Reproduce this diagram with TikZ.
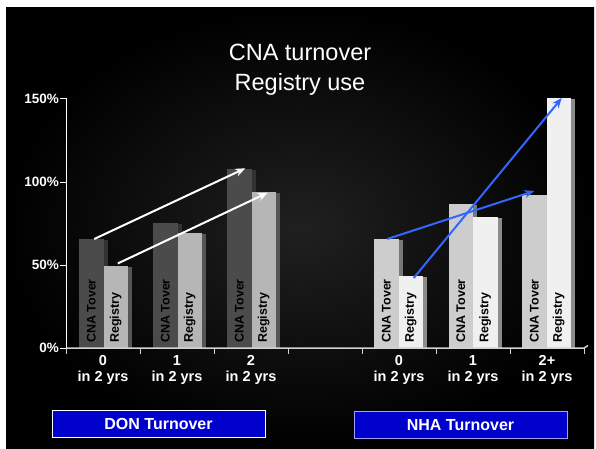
\documentclass[tikz,border=0pt]{standalone}
\usepackage{fontspec}
\setmainfont{Liberation Sans}
\usetikzlibrary{arrows.meta}
\definecolor{donDark}{RGB}{75,75,75}
\definecolor{donDarkSide}{RGB}{50,50,50}
\definecolor{donLight}{RGB}{182,182,182}
\definecolor{donLightSide}{RGB}{85,85,85}
\definecolor{nhaDark}{RGB}{205,205,205}
\definecolor{nhaDarkSide}{RGB}{120,120,120}
\definecolor{nhaLight}{RGB}{240,240,240}
\definecolor{nhaLightSide}{RGB}{140,140,140}
\definecolor{boxBlue}{RGB}{0,0,204}
\definecolor{boxRim}{RGB}{160,160,255}
\definecolor{arrowBlue}{RGB}{51,102,255}

\begin{document}
\begin{tikzpicture}[
        x=1pt, y=-1pt,
        every node/.style={text=white},
        title/.style={align=center, font=\fontsize{23.5}{30}\selectfont},
        ylabel/.style={anchor=east, inner sep=0pt, font=\bfseries\fontsize{13.5}{13.5}\selectfont},
        catlabel/.style={align=center, inner sep=0pt, font=\bfseries\fontsize{14.5}{16}\selectfont},
        barlabel/.style={rotate=90, anchor=west, inner sep=0pt, text=black, font=\bfseries\fontsize{12.5}{12.5}\selectfont},
        groupbox/.style={rectangle, fill=boxBlue, line width=1pt, minimum width=213pt, minimum height=27pt, inner sep=0pt, font=\bfseries\fontsize{16}{16}\selectfont},
        trend/.style={-{Stealth[length=10pt, width=8pt]}, line width=2pt}
    ]
        % Background
        \fill[white] (0,0) rectangle (596,449);
        \fill[black] (6,8) rectangle (594,449);
        \shade[inner color={rgb,255:red,32;green,32;blue,32}, outer color=black] (6,8) rectangle (594,449);

        % Title
        \node[title] (title) at (300,70) {CNA turnover\\Registry use};

        % Bars
        \foreach \x/\t/\c/\lab/\name in {
            79/239/donDark/CNA Tover/d0c, 103.5/265.5/donLight/Registry/d0r,
            153/222.7/donDark/CNA Tover/d1c, 177.5/232.7/donLight/Registry/d1r,
            227/169.3/donDark/CNA Tover/d2c, 251.5/191.7/donLight/Registry/d2r,
            374/239/nhaDark/CNA Tover/n0c, 398.5/276/nhaLight/Registry/n0r,
            448.5/204/nhaDark/CNA Tover/n1c, 473/216.7/nhaLight/Registry/n1r,
            522/195/nhaDark/CNA Tover/n2c, 546.5/98/nhaLight/Registry/n2r} {
            \fill[\c Side] (\x+24.5,\t+1) rectangle (\x+28.5,348);
            \fill[\c] (\x,\t) rectangle (\x+24.5,348);
            \node[barlabel] at (\x+12.25,343) {\lab};
            \coordinate (\name) at (\x+12.25,\t);
        }

        % Axes
        \draw[white, line width=1.2pt] (66.5,99) -- (66.5,348);
        \foreach \y/\v in {99/150, 182/100, 265/50, 348/0} {
            \draw[white, line width=1pt] (60,\y) -- (66.5,\y);
            \node[ylabel] (y\v) at (59,\y) {\v\%};
        }
        \draw[gray!35!white, line width=1.5pt] (66.5,348) -- (584,348) -- (588,345.5);
        \foreach \x in {66.5,140.5,214.5,288.5,362.5,436.5,510.5,584} {
            \draw[gray!35!white, line width=1pt] (\x,348) -- (\x,354);
        }

        % Categories
        \node[catlabel] (k0) at (103,370) {0\\in 2 yrs};
        \node[catlabel] (k1) at (177,370) {1\\in 2 yrs};
        \node[catlabel] (k2) at (251,370) {2\\in 2 yrs};
        \node[catlabel] (m0) at (399,370) {0\\in 2 yrs};
        \node[catlabel] (m1) at (473,370) {1\\in 2 yrs};
        \node[catlabel] (m2) at (547,370) {2+\\in 2 yrs};

        % Trend arrows
        \draw[trend, white] ([xshift=3pt]d0c) -- ([xshift=6pt, yshift=1pt]d2c);
        \draw[trend, white] ([xshift=2pt, yshift=2pt]d0r) -- ([xshift=4pt, yshift=-1pt]d2r);
        \draw[trend, arrowBlue] ([xshift=1pt]n0c) -- ([yshift=4pt]n2c);
        \draw[trend, arrowBlue] ([xshift=3pt, yshift=-2pt]n0r) -- ([xshift=3pt]n2r);

        % Group boxes
        \node[groupbox, draw=white] (don) at (158.5,423.5) {DON Turnover};
        \node[groupbox, draw=boxRim] (nha) at (460.5,425) {NHA Turnover};
    \end{tikzpicture}
\end{document}
